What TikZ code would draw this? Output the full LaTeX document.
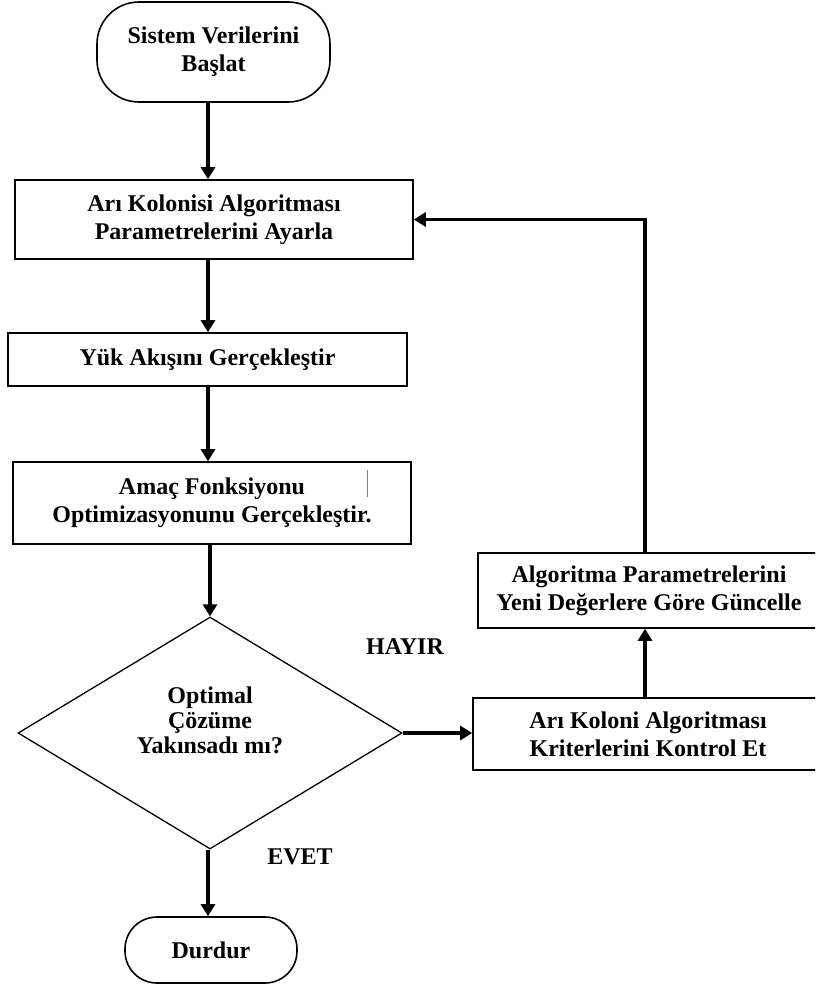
\documentclass[tikz,border=0pt]{standalone}
\usepackage{fontspec}
\setmainfont{Liberation Serif}
\usetikzlibrary{arrows.meta,shapes.geometric}
\begin{document}
\begin{tikzpicture}[x=1pt,y=-1pt,
  every node/.style={font=\bfseries\fontsize{24}{28}\selectfont, align=center, inner sep=0pt},
  boxnode/.style={draw, line width=1.6pt, rectangle},
  termnode/.style={draw, line width=1.6pt, rectangle, rounded corners=42pt},
  flow/.style={line width=3.6pt, -{Triangle[length=12pt,width=14pt]}}]
\useasboundingbox (0,0) rectangle (815,989);
\clip (0,0) rectangle (815,989);
\fill[white] (0,0) rectangle (815,989);
\coordinate (colx) at (208,0);
\coordinate (fbx) at (645,0);

\node[termnode, minimum width=233pt, minimum height=100pt] (start) at (213.5,52) {Sistem Verilerini\\Başlat};
\node[boxnode, minimum width=398pt, minimum height=79pt] (params) at (214,219.5) {Arı Kolonisi Algoritması\\Parametrelerini Ayarla};
\node[boxnode, minimum width=399pt, minimum height=53pt] (load) at (207.5,359.5) {Yük Akışını Gerçekleştir};
\node[boxnode, minimum width=398pt, minimum height=82pt] (opt) at (212,503) {Amaç Fonksiyonu\\Optimizasyonunu Gerçekleştir.};
\node[draw, line width=1.3pt, diamond, minimum width=384pt, minimum height=232pt] (dec) at (210,733) {};
\node (dectext) at (210,720) {Optimal\\[-3pt]Çözüme\\[-3pt]Yakınsadı mı?};
\node[termnode, rounded corners=32pt, minimum width=172pt, minimum height=66pt] (stop) at (211,950) {Durdur};
\node[boxnode, minimum width=342pt, minimum height=75pt] (update) at (649,590.5) {Algoritma Parametrelerini\\Yeni Değerlere Göre Güncelle};
\node[boxnode, minimum width=350pt, minimum height=72pt] (check) at (648,734) {Arı Koloni Algoritması\\Kriterlerini Kontrol Et};
\node (hayir) at (405,647) {HAYIR};
\node (evet) at (300,857) {EVET};

\draw[gray, line width=1pt] (367,470) -- (367,497);

\draw[flow] (start.south -| colx) -- (params.north -| colx);
\draw[flow] (params.south -| colx) -- (load.north -| colx);
\draw[flow] (load.south -| colx) -- (opt.north -| colx);
\draw[flow] (opt.south -| dec.north) -- (dec.north);
\draw[flow] (dec.south -| colx) -- (stop.north -| colx);
\draw[flow] (dec.east) -- (check.west |- dec.east);
\draw[flow] (check.north -| fbx) -- (update.south -| fbx);
\draw[flow] (update.north -| fbx) -- (fbx |- params.east) -- (params.east);
\end{tikzpicture}
\end{document}
